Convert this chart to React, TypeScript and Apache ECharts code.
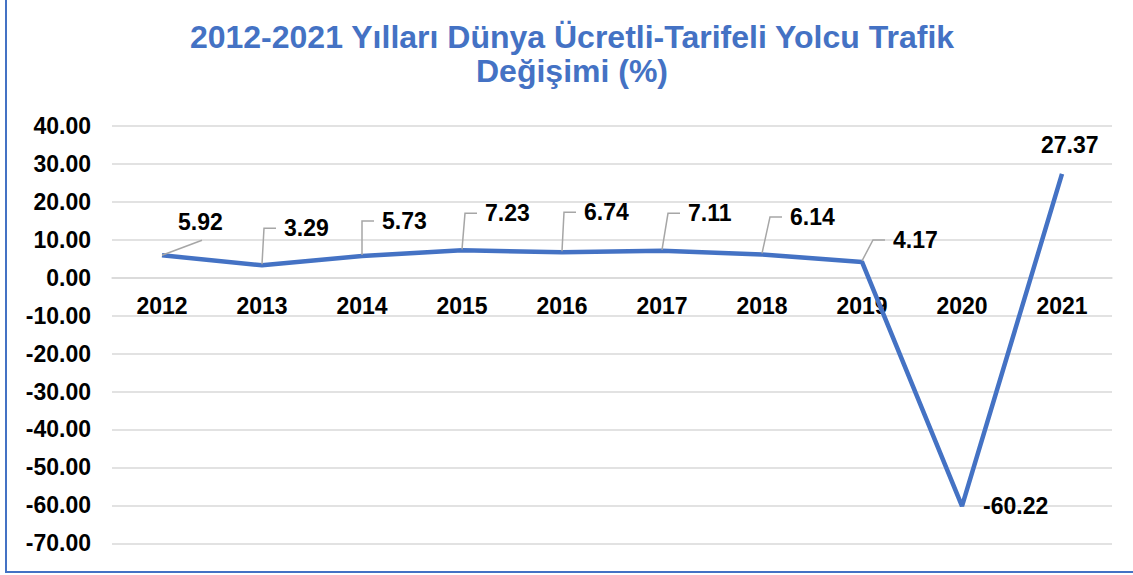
import React, { useEffect, useRef } from "react";
import * as echarts from "echarts";

const years = ["2012", "2013", "2014", "2015", "2016", "2017", "2018", "2019", "2020", "2021"];
const values = [5.92, 3.29, 5.73, 7.23, 6.74, 7.11, 6.14, 4.17, -60.22, 27.37];
// label placement relative to each point (left edge of text, vertical centre)
const labelDx = [16, 22, 20, 23, 22, 26, 28, 31, 21, -21];
const labelDy = [-33, -37, -35, -37, -40, -37.5, -37.5, -22, 0, -29];
const leaderKind = ["straight", "elbow", "elbow", "elbow", "elbow", "elbow", "elbow", "elbow", "none", "none"];

const titleText = "2012-2021 Yılları Dünya Ücretli-Tarifeli Yolcu Trafik\nDeğişimi (%)";
const FONT = "'Liberation Sans', Arial, sans-serif";
const BLUE = "#4472C4";

const GRID_TOP = 126;
const GRID_BOTTOM = 31.7;
const Y_MIN = -70;
const Y_MAX = 40;

export default function App() {
  const ref = useRef<HTMLDivElement>(null);
  useEffect(() => {
    if (!ref.current) return;
    const chart = echarts.init(ref.current, null, { renderer: "svg" });
    const plotH = 575 - GRID_TOP - GRID_BOTTOM;
    // move the category axis up to the zero line
    const zeroOffset = -(plotH * (0 - Y_MIN)) / (Y_MAX - Y_MIN);
    chart.setOption({
      animation: false,
      backgroundColor: "#ffffff",
      textStyle: { fontFamily: FONT },
      graphic: [
        {
          type: "rect",
          shape: { x: 6, y: -10, width: 1150, height: 582 },
          style: { fill: "none", stroke: BLUE, lineWidth: 2 },
          silent: true,
        },
        {
          type: "text",
          x: 572,
          y: 20,
          style: {
            text: titleText,
            fill: BLUE,
            fontSize: 32,
            fontWeight: "bold",
            fontFamily: FONT,
            lineHeight: 34,
            align: "center",
            verticalAlign: "top",
          },
        },
      ],
      grid: { left: 112, right: 21, top: GRID_TOP, bottom: GRID_BOTTOM, containLabel: false },
      xAxis: {
        type: "category",
        data: years,
        boundaryGap: true,
        offset: zeroOffset,
        axisLine: { show: true, onZero: false, lineStyle: { color: "#d9d9d9", width: 1.5 } },
        axisTick: { show: false },
        axisLabel: { color: "#000", fontSize: 23, fontWeight: "bold", fontFamily: FONT, margin: 17 },
      },
      yAxis: {
        type: "value",
        min: Y_MIN,
        max: Y_MAX,
        interval: 10,
        axisLine: { show: false },
        axisTick: { show: false },
        splitLine: { lineStyle: { color: "#d9d9d9", width: 1.5 } },
        axisLabel: {
          color: "#000",
          fontSize: 23,
          fontWeight: "bold",
          fontFamily: FONT,
          margin: 21,
          formatter: (v: number) => v.toFixed(2),
        },
      },
      series: [
        {
          type: "line",
          data: values,
          symbol: "none",
          lineStyle: { color: BLUE, width: 4.5 },
          z: 3,
        },
        {
          type: "custom",
          data: values.map((v, i) => [i, v]),
          clip: false,
          z: 4,
          renderItem: (params: any, api: any) => {
            const i = params.dataIndex;
            const pt = api.coord([api.value(0), api.value(1)]);
            const lx = pt[0] + labelDx[i];
            const cy = pt[1] + labelDy[i];
            const children: any[] = [
              {
                type: "text",
                style: {
                  text: values[i].toFixed(2),
                  x: lx,
                  y: cy,
                  fill: "#000",
                  fontSize: 23,
                  fontWeight: "bold",
                  fontFamily: FONT,
                  align: "left",
                  verticalAlign: "middle",
                },
              },
            ];
            const kind = leaderKind[i];
            if (kind === "elbow") {
              children.push({
                type: "polyline",
                shape: {
                  points: [
                    [pt[0], pt[1] - 1],
                    [lx - 20, cy],
                    [lx - 8, cy],
                  ],
                },
                style: { stroke: "#a6a6a6", lineWidth: 1.5, fill: "none" },
              });
            } else if (kind === "straight") {
              children.push({
                type: "line",
                shape: { x1: pt[0], y1: pt[1], x2: lx + 24, y2: cy + 18 },
                style: { stroke: "#a6a6a6", lineWidth: 1.5 },
              });
            }
            return { type: "group", children };
          },
        },
      ],
    });
    return () => chart.dispose();
  }, []);
  return (
    <div
      ref={ref}
      style={{ position: "absolute", left: 0, top: 0, width: 1133, height: 575 }}
    />
  );
}
